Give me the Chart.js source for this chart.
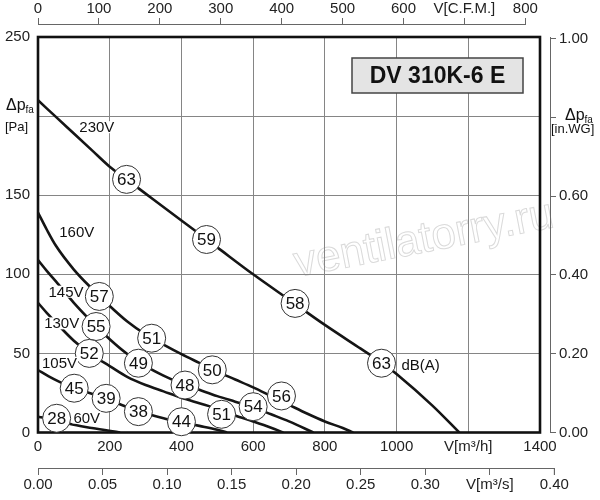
<!DOCTYPE html>
<html>
<head>
<meta charset="utf-8">
<script src="https://cdn.jsdelivr.net/npm/chart.js@4.4.0/dist/chart.umd.min.js"></script>
<style>
  html, body { margin: 0; padding: 0; background: #fff; }
</style>
</head>
<body>
<canvas id="fanChart" width="600" height="500"></canvas>
<script>
const M3H_PER_CFM = 1.699;
const PA_PER_INWG = 249.09;
const FONT = "'Liberation Sans', Arial, sans-serif";

// axis ticks
const flowTicks = [0, 200, 400, 600, 800, 1000, 1200, 1400];
const flowLabels = ['0', '200', '400', '600', '800', '1000', 'V[m³/h]', '1400'];
const pressureTicks = [0, 50, 100, 150, 200, 250];
const pressureLabels = ['0', '50', '100', '150', '', '250'];
const cfmTicks = [0, 100, 200, 300, 400, 500, 600, 700, 800];
const cfmLabels = ['0', '100', '200', '300', '400', '500', '600', 'V[C.F.M.]', '800'];
const m3sTicks = [0, 0.05, 0.10, 0.15, 0.20, 0.25, 0.30, 0.35, 0.40];
const m3sLabels = ['0.00', '0.05', '0.10', '0.15', '0.20', '0.25', '0.30', 'V[m³/s]', '0.40'];
const inwgTicks = [0, 0.2, 0.4, 0.6, 0.8, 1.0];
const inwgLabels = ['0.00', '0.20', '0.40', '0.60', '', '1.00'];

// fan curves, flow [m3/h] / pressure [Pa]
const flow230 = [0, 50, 100, 150, 200, 250, 300, 400, 500, 600, 700, 800, 900, 960, 1000, 1100, 1175];
const pa230   = [210, 199.5, 189, 178.5, 168, 159.5, 151, 134, 117, 100, 84, 68, 53, 44, 37, 17, 0];
const flow160 = [0, 25, 50, 100, 150, 200, 250, 300, 350, 400, 450, 500, 550, 600, 650, 700, 750, 800, 850, 879];
const pa160   = [139, 128, 118, 103, 91, 80, 70, 62, 55.5, 49.5, 44, 38.5, 33.5, 28.5, 23, 17.5, 12, 7, 2.8, 0];
const flow145 = [0, 25, 50, 100, 150, 200, 250, 300, 350, 400, 450, 500, 550, 600, 650, 700, 768];
const pa145   = [109, 102, 95.5, 82, 70, 59, 49.5, 42, 36, 31, 27, 23, 19.5, 16, 11.5, 7, 0];
const flow130 = [0, 25, 50, 100, 150, 200, 250, 300, 350, 400, 450, 500, 550, 600, 650, 684];
const pa130   = [82, 75.5, 69.5, 58, 49, 42, 35, 30, 26, 22, 18.5, 15, 10.8, 7, 3, 0];
const flow105 = [0, 30, 60, 100, 150, 200, 250, 300, 350, 400, 450, 500, 527];
const pa105   = [39.5, 35.5, 32, 28, 24.5, 20.5, 16, 12.2, 9, 6.5, 4.2, 1.8, 0];
const flow60  = [0, 52, 87, 150, 229];
const pa60    = [10, 8, 5.5, 2.8, 0];

// voltage labels
const voltNames = ['230V', '160V', '145V', '130V', '105V', '60V'];
const voltFlow  = [164, 108, 78, 66, 60, 136];
const voltPa    = [193, 127, 89, 69, 44, 9.5];

// sound levels dB(A)
const dbValues = [63, 59, 58, 63, 57, 51, 50, 56, 55, 49, 48, 54, 52, 51, 45, 39, 38, 44, 28];
const dbFlow   = [247, 470, 717, 958, 171, 317, 486, 679, 162, 280, 410, 600, 143, 512, 101, 190, 280, 400, 52];
const dbPa     = [160, 122, 81.6, 43.8, 86, 59.6, 39.6, 23.1, 67, 43.8, 30, 16.3, 50, 11.5, 28, 21.6, 13.2, 6.8, 9];

const modelName = 'DV 310K-6 E';

function pts(xs, ys) {
  return xs.map((x, i) => ({ x: x, y: ys[i] }));
}
function useTicks(values) {
  return function (scale) { scale.ticks = values.map(v => ({ value: v })); };
}
function lineSet(xs, ys) {
  return {
    data: pts(xs, ys),
    showLine: true,
    borderColor: '#151515',
    borderWidth: 2.6,
    pointRadius: 0,
    cubicInterpolationMode: 'monotone',
    order: 2
  };
}

const decor = {
  id: 'decor',
  beforeDraw(chart) {
    const c = chart.ctx, a = chart.chartArea;
    c.save();
    c.translate(a.left + 386, a.top + 203);
    c.rotate(-11 * Math.PI / 180);
    c.font = '44px ' + FONT;
    c.textAlign = 'center';
    c.textBaseline = 'middle';
    c.strokeStyle = '#dadada';
    c.lineWidth = 1;
    c.strokeText('ventilatorry.ru', 0, 0);
    c.restore();
  },
  beforeDatasetsDraw(chart) {
    const c = chart.ctx, a = chart.chartArea;
    c.save();
    c.strokeStyle = '#111';
    c.lineWidth = 2.6;
    c.strokeRect(a.left, a.top, a.right - a.left, a.bottom - a.top);
    c.restore();
  },
  afterDatasetsDraw(chart) {
    const c = chart.ctx, a = chart.chartArea;
    const xs = chart.scales.x, ys = chart.scales.y;
    c.save();
    c.fillStyle = '#111';

    // numbers in the circles
    const meta = chart.getDatasetMeta(0);
    c.font = '17px ' + FONT;
    c.textAlign = 'center';
    c.textBaseline = 'middle';
    meta.data.forEach((el, i) => c.fillText(String(dbValues[i]), el.x, el.y + 1));

    // voltage labels
    c.font = '15px ' + FONT;
    voltNames.forEach((t, i) => {
      const px = xs.getPixelForValue(voltFlow[i]);
      const py = ys.getPixelForValue(voltPa[i]);
      const w = c.measureText(t).width;
      c.fillStyle = '#fff';
      c.fillRect(px - w / 2 - 1, py - 6, w + 2, 12);
      c.fillStyle = '#111';
      c.fillText(t, px, py + 1);
    });
    c.fillText('dB(A)', xs.getPixelForValue(1067), ys.getPixelForValue(42.8) + 1);

    // model box
    c.fillStyle = '#e4e4e4';
    c.fillRect(a.right - 188, a.top + 21, 171, 35);
    c.strokeStyle = '#444';
    c.lineWidth = 1.5;
    c.strokeRect(a.right - 188, a.top + 21, 171, 35);
    c.fillStyle = '#111';
    c.font = 'bold 23px ' + FONT;
    c.fillText(modelName, a.right - 102.5, a.top + 39.5);

    // pressure axis titles
    c.textAlign = 'left';
    c.textBaseline = 'alphabetic';
    const y200 = ys.getPixelForValue(200);
    c.font = '16px ' + FONT;
    c.fillText('Δp', 6, y200 - 6);
    let w = c.measureText('Δp').width;
    c.font = '10px ' + FONT;
    c.fillText('fa', 6 + w, y200 - 3);
    c.font = '13px ' + FONT;
    c.fillText('[Pa]', 5, y200 + 15);

    const rs = chart.scales.inwg;
    const y08 = rs.getPixelForValue(0.8);
    c.font = '16px ' + FONT;
    c.fillText('Δp', rs.left + 15, y08 + 3);
    w = c.measureText('Δp').width;
    c.font = '10px ' + FONT;
    c.fillText('fa', rs.left + 15 + w, y08 + 6);
    c.font = '13px ' + FONT;
    c.fillText('[in.WG]', rs.left + 1, y08 + 16);

    // secondary axis lines
    c.strokeStyle = '#666';
    c.lineWidth = 1;
    const ts = chart.scales.cfm;
    c.beginPath();
    c.moveTo(ts.getPixelForValue(0), ts.bottom - 0.5);
    c.lineTo(ts.getPixelForValue(800), ts.bottom - 0.5);
    const bs = chart.scales.m3s;
    const end = bs.getPixelForValue(0.40);
    c.moveTo(bs.getPixelForValue(0), bs.top + 0.5);
    c.lineTo(end, bs.top + 0.5);
    c.moveTo(end, bs.top);
    c.lineTo(end, bs.top + 7);
    c.stroke();
    c.restore();
  }
};

const tickFont = { family: FONT, size: 15 };
const axisGrid = { drawOnChartArea: false, drawTicks: true, tickLength: 7, color: '#666' };

const chart = new Chart(document.getElementById('fanChart').getContext('2d'), {
  type: 'scatter',
  data: {
    datasets: [
      {
        data: pts(dbFlow, dbPa),
        pointRadius: 14,
        pointBackgroundColor: '#fff',
        pointBorderColor: '#333',
        pointBorderWidth: 1,
        clip: false,
        order: 1
      },
      lineSet(flow230, pa230),
      lineSet(flow160, pa160),
      lineSet(flow145, pa145),
      lineSet(flow130, pa130),
      lineSet(flow105, pa105),
      lineSet(flow60, pa60)
    ]
  },
  options: {
    responsive: false,
    animation: false,
    events: [],
    layout: { padding: 0 },
    plugins: { legend: { display: false }, tooltip: { enabled: false } },
    scales: {
      x: {
        type: 'linear', position: 'bottom', weight: 0,
        min: 0, max: 1400,
        afterBuildTicks: useTicks(flowTicks),
        afterFit: s => { s.height = 35.5; },
        grid: { color: '#858585', lineWidth: 1, drawTicks: false },
        border: { display: false },
        ticks: { font: tickFont, color: '#222', padding: 5, maxRotation: 0, autoSkip: false,
                 callback: (v, i) => flowLabels[i] }
      },
      m3s: {
        type: 'linear', axis: 'x', position: 'bottom', weight: 1,
        min: 0, max: 1400 / 3600,
        afterBuildTicks: useTicks(m3sTicks),
        afterFit: s => { s.height = 32; },
        grid: axisGrid,
        border: { display: false },
        ticks: { font: tickFont, color: '#222', padding: 1, maxRotation: 0, autoSkip: false,
                 callback: (v, i) => m3sLabels[i] }
      },
      y: {
        type: 'linear', position: 'left', weight: 0,
        min: 0, max: 250,
        afterBuildTicks: useTicks(pressureTicks),
        afterFit: s => { s.width = 38; },
        grid: { color: '#858585', lineWidth: 1, drawTicks: false },
        border: { display: false },
        ticks: { font: tickFont, color: '#222', padding: 8, autoSkip: false,
                 callback: (v, i) => pressureLabels[i] }
      },
      gapTop: {
        type: 'linear', axis: 'x', position: 'top', weight: 0,
        afterFit: s => { s.height = 12; },
        grid: { display: false }, border: { display: false }, ticks: { display: false }
      },
      cfm: {
        type: 'linear', axis: 'x', position: 'top', weight: 1,
        min: 0, max: 1400 / M3H_PER_CFM,
        afterBuildTicks: useTicks(cfmTicks),
        afterFit: s => { s.height = 25; },
        grid: axisGrid,
        border: { display: false },
        ticks: { font: tickFont, color: '#222', padding: 0, maxRotation: 0, autoSkip: false,
                 callback: (v, i) => cfmLabels[i] }
      },
      gapRight: {
        type: 'linear', axis: 'y', position: 'right', weight: 0,
        afterFit: s => { s.width = 10; },
        grid: { display: false }, border: { display: false }, ticks: { display: false }
      },
      inwg: {
        type: 'linear', axis: 'y', position: 'right', weight: 1,
        min: 0, max: 250 / PA_PER_INWG,
        afterBuildTicks: useTicks(inwgTicks),
        afterFit: s => { s.width = 50; },
        grid: { drawOnChartArea: false, drawTicks: true, tickLength: 6, color: '#666' },
        border: { display: true, color: '#666' },
        ticks: { font: tickFont, color: '#222', padding: 3, autoSkip: false,
                 callback: (v, i) => inwgLabels[i] }
      }
    }
  },
  plugins: [decor]
});
</script>
</body>
</html>
